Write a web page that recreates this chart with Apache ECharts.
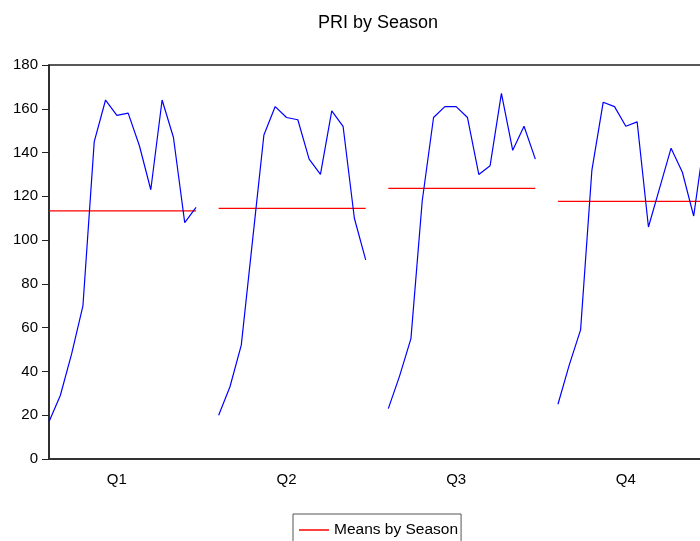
<!DOCTYPE html>
<html>
<head>
<meta charset="utf-8">
<script src="https://cdn.jsdelivr.net/npm/echarts@6/dist/echarts.min.js"></script>
<style>
  html, body { margin: 0; padding: 0; background: #fff; overflow: hidden; }
  /* plot runs a few pixels past the right edge, as in the reference */
  #seasonChart { width: 708px; height: 541px; }
</style>
</head>
<body>
<div id="seasonChart"></div>
<script>
// seasons and the values plotted for each one
const seasons = ["Q1", "Q2", "Q3", "Q4"];
const q1Values = [17, 29, 48, 70, 145, 164, 157, 158, 143, 123, 164, 147, 108, 115];
const q2Values = [20, 33, 52, 100, 148, 161, 156, 155, 137, 130, 159, 152, 110, 91];
const q3Values = [23, 38, 55, 118, 156, 161, 161, 156, 130, 134, 167, 141, 152, 137];
const q4Values = [25, 43, 59, 132, 163, 161, 152, 154, 106, 124, 142, 131, 111, 148];
const seasonMeans = [113.4, 114.5, 123.6, 117.7];
const yTicks = { min: 0, max: 180, step: 20 };

let chartDom = document.getElementById("seasonChart");
let myChart = echarts.init(chartDom);
let option;

// one slot per point, plus an empty slot between seasons
const buildSlots = () => {
  let blocks = [q1Values, q2Values, q3Values, q4Values];
  let cats = [];
  let pri = [];
  let means = [];
  blocks.forEach((vals, s) => {
    vals.forEach((v, i) => {
      cats.push(i === 6 ? seasons[s] : "");
      pri.push(v);
      means.push(seasonMeans[s]);
    });
    if (s < blocks.length - 1) {
      cats.push("");
      pri.push(null);
      means.push(null);
    }
  });
  return { cats, pri, means };
};
const slots = buildSlots();
const fontFam = "'Liberation Sans', Arial, sans-serif";

option = {
  animation: false,
  title: {
    text: "PRI by Season",
    left: 318,
    top: 14,
    padding: 0,
    textStyle: { fontFamily: fontFam, fontSize: 18, fontWeight: "normal", color: "#000" },
  },
  legend: {
    data: [{ name: "Means by Season", icon: "rect" }],
    left: 293,
    top: 514,
    itemWidth: 30,
    itemHeight: 1.5,
    itemGap: 4,
    padding: [8, 3, 8, 6],
    borderColor: "#555",
    borderWidth: 1,
    textStyle: { fontFamily: fontFam, fontSize: 15.5, color: "#000" },
  },
  grid: {
    left: 49,
    right: 1,
    top: 65,
    bottom: 82,
    show: true,
    borderColor: "#222",
    borderWidth: 1.5,
  },
  xAxis: {
    type: "category",
    data: slots.cats,
    boundaryGap: false,
    axisLine: { lineStyle: { color: "#333", width: 2 } },
    axisTick: { show: false },
    splitLine: { show: false },
    axisLabel: {
      interval: 0,
      margin: 13,
      fontFamily: fontFam,
      fontSize: 15,
      color: "#000",
    },
  },
  yAxis: {
    type: "value",
    min: yTicks.min,
    max: yTicks.max,
    interval: yTicks.step,
    axisLine: { show: true, lineStyle: { color: "#222", width: 1.5 } },
    axisTick: { show: true, length: 7, lineStyle: { color: "#222" } },
    splitLine: { show: false },
    axisLabel: {
      margin: 11,
      fontFamily: fontFam,
      fontSize: 15,
      color: "#000",
    },
  },
  series: [
    {
      type: "line",
      name: "PRI",
      data: slots.pri,
      showSymbol: false,
      connectNulls: false,
      lineStyle: { color: "#0000ff", width: 1.2 },
      itemStyle: { color: "#0000ff" },
      z: 3,
    },
    {
      type: "line",
      name: "Means by Season",
      data: slots.means,
      showSymbol: false,
      connectNulls: false,
      lineStyle: { color: "#ff0000", width: 1.2 },
      itemStyle: { color: "#ff0000" },
      z: 2,
    },
  ],
};

option && myChart.setOption(option);
</script>
</body>
</html>
